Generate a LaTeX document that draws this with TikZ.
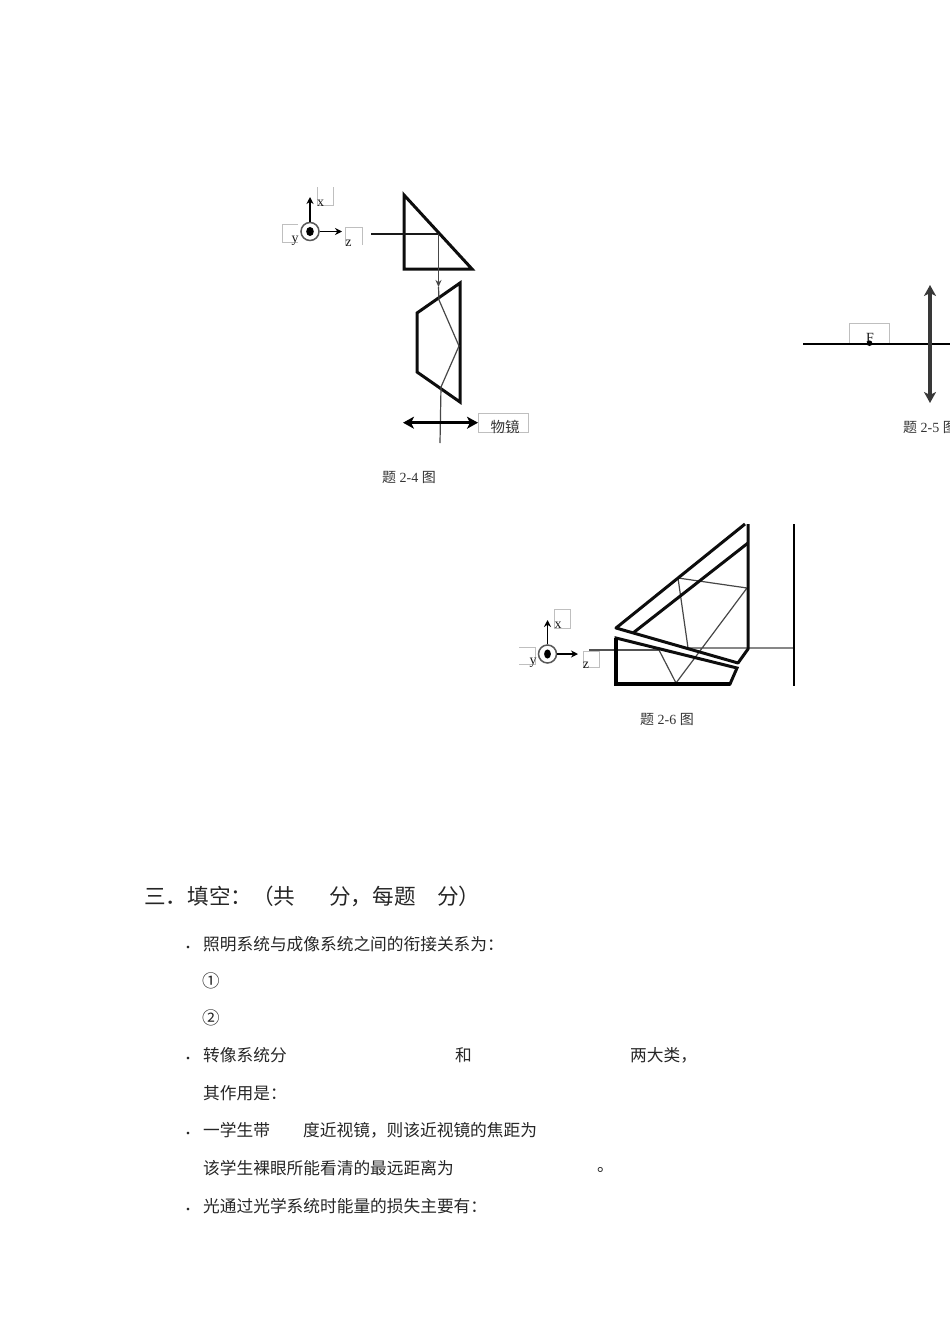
\documentclass[tikz,border=0pt]{standalone}
\usepackage{fontspec}
\setmainfont{Liberation Serif}
\newfontfamily\cjk{Noto Sans CJK SC}
\usetikzlibrary{arrows.meta}
\tikzset{
  thickline/.style={line width=3pt,draw=black!95,line join=miter},
  rayline/.style={line width=1.2pt,draw=black!72},
  lbox/.style={line width=.8pt,draw=black!25},
  axisarrow/.style={line width=1.4pt,-{Stealth[length=7pt,width=7pt]}},
  lensarrow/.style={line width=3pt,{Stealth[length=11pt,width=12pt,inset=3pt]}-{Stealth[length=11pt,width=12pt,inset=3pt]}},
  latintext/.style={inner sep=0pt,font=\fontsize{14}{15}\selectfont,text=black!90},
  captext/.style={inner sep=0pt,font=\fontsize{14}{15}\selectfont,text=black!80},
  bodytext/.style={anchor=west,inner sep=0pt,font=\cjk\fontsize{16.7}{18}\selectfont,text=black!85},
  headtext/.style={anchor=west,inner sep=0pt,font=\cjk\fontsize{21.6}{23}\selectfont,text=black!85},
  dotmark/.style={anchor=center,inner sep=0pt,font=\fontsize{22}{23}\selectfont,text=black!85},
}
\begin{document}
\begin{tikzpicture}[x=1pt,y=-1pt]
\useasboundingbox (0,0) rectangle (950,1344);
\clip (0,0) rectangle (950,1344);

% ---- figure 2-4
\draw[lbox] (317,187) -- (317,205) -- (333,205) -- (333,187);
\draw[lbox] (298,224) -- (282,224) -- (282,242) -- (298,242);
\draw[lbox] (345,245) -- (345,227) -- (362,227) -- (362,245);
\draw[lbox] (478,432) -- (478,413) -- (528,413) -- (528,432) -- cycle;
\node[latintext] (a4x) at (320.5,203) {x};
\node[latintext] (a4y) at (295,240.5) {y};
\node[latintext] (a4z) at (348.5,243.5) {z};
\node[inner sep=0pt,font=\cjk\fontsize{14.5}{15}\selectfont,text=black!80] (lab4) at (505,427) {物镜};
\node[draw=black!65,line width=1.5pt,circle,minimum size=18pt,inner sep=0pt,fill=white] (o4) at (310,231.5) {};
\fill[black] (o4.center) ellipse (3.8pt and 4.6pt);
\draw[axisarrow] (o4.north) -- (310,197);
\draw[axisarrow] (o4.east) -- (342,231.5);
\draw[thickline] (404,195) -- (404,269) -- (472,269) -- cycle;
\draw[line width=1.6pt,black!90] (371,234) -- (438.5,234);
\draw[rayline,-{Stealth[length=7pt,width=6pt]}] (438.5,234) -- (438.5,287);
\draw[thickline] (417,313) -- (460,283) -- (460,402) -- (417,372) -- cycle;
\draw[rayline] (438.5,287) -- (439,300) -- (459,346) -- (441,387) -- (440,443);
\draw[lensarrow] (403,422.7) -- (478,422.7);
\node[captext] (c4) at (409,477) {{\cjk 题} 2-4 {\cjk 图}};

% ---- figure 2-5
\draw[lbox] (849,344) -- (849,323) -- (889,323) -- (889,344);
\draw[line width=1.3pt,black] (803,344) -- (950,344);
\node[latintext] (f) at (870,337.5) {F};
\fill[black] (869.5,343.2) circle (2.8pt);
\draw[lensarrow,line width=3.4pt,black!78] (930,285) -- (930,403);
\node[captext,anchor=west] (c5) at (903,427) {{\cjk 题} 2-5 {\cjk 图}};

% ---- figure 2-6
\draw[lbox] (554,628) -- (554,609) -- (570,609) -- (570,628) -- cycle;
\draw[lbox] (535,647) -- (519,647);
\draw[lbox] (535,647) -- (535,664) -- (519,664);
\draw[lbox] (583,667) -- (583,651) -- (599,651) -- (599,667) -- cycle;
\node[latintext] (a6x) at (558,625) {x};
\node[latintext] (a6y) at (533,662.5) {y};
\node[latintext] (a6z) at (586,665) {z};
\node[draw=black!65,line width=1.5pt,circle,minimum size=18pt,inner sep=0pt,fill=white] (o6) at (547.5,654) {};
\fill[black] (o6.center) ellipse (3.4pt and 4.6pt);
\draw[axisarrow] (o6.north) -- (547.5,620);
\draw[axisarrow] (o6.east) -- (578,654);
\draw[line width=1.3pt,black!68] (589,650) -- (659,650);
\draw[rayline] (659,650) -- (676,683) -- (747,588) -- (678,578) -- (688,648) -- (794,648);
\draw[thickline,line join=round] (745,524) -- (616,628) -- (738,663) -- (748,649) -- (748,524);
\draw[thickline] (633,633) -- (748,543);
\draw[thickline] (616,638) -- (737,668) -- (730,684) -- (616,684) -- cycle;
\draw[line width=3.6pt,black] (616,638) -- (616,684) -- (730,684);
\draw[line width=1.2pt,black] (794,524) -- (794,686);
\node[captext] (c6) at (667,719) {{\cjk 题} 2-6 {\cjk 图}};

% ---- text
\node[headtext] (h1) at (144,896.5) {三．填空：（共};
\node[headtext] (h2) at (329,896.5) {分，每题};
\node[headtext] (h3) at (437,896.5) {分）};

\node[dotmark] (d1) at (188,947) {.};
\node[bodytext] (t1) at (203,944.5) {照明系统与成像系统之间的衔接关系为：};
\node[bodytext,font=\cjk\fontsize{17.5}{18}\selectfont] (t2) at (202,981) {①};
\node[bodytext,font=\cjk\fontsize{17.5}{18}\selectfont] (t3) at (202,1018) {②};
\node[dotmark] (d2) at (188,1058) {.};
\node[bodytext] (t4a) at (203,1055.5) {转像系统分};
\node[bodytext] (t4b) at (455,1055.5) {和};
\node[bodytext] (t4c) at (630,1055.5) {两大类，};
\node[bodytext] (t5) at (203,1093.5) {其作用是：};
\node[dotmark] (d3) at (188,1133) {.};
\node[bodytext] (t6a) at (203,1130.5) {一学生带};
\node[bodytext] (t6b) at (303,1130.5) {度近视镜，则该近视镜的焦距为};
\node[bodytext] (t7a) at (203,1168.5) {该学生裸眼所能看清的最远距离为};
\node[bodytext] (t7b) at (597,1170) {。};
\node[dotmark] (d4) at (188,1209) {.};
\node[bodytext] (t8) at (203,1206.5) {光通过光学系统时能量的损失主要有：};
\end{tikzpicture}
\end{document}
